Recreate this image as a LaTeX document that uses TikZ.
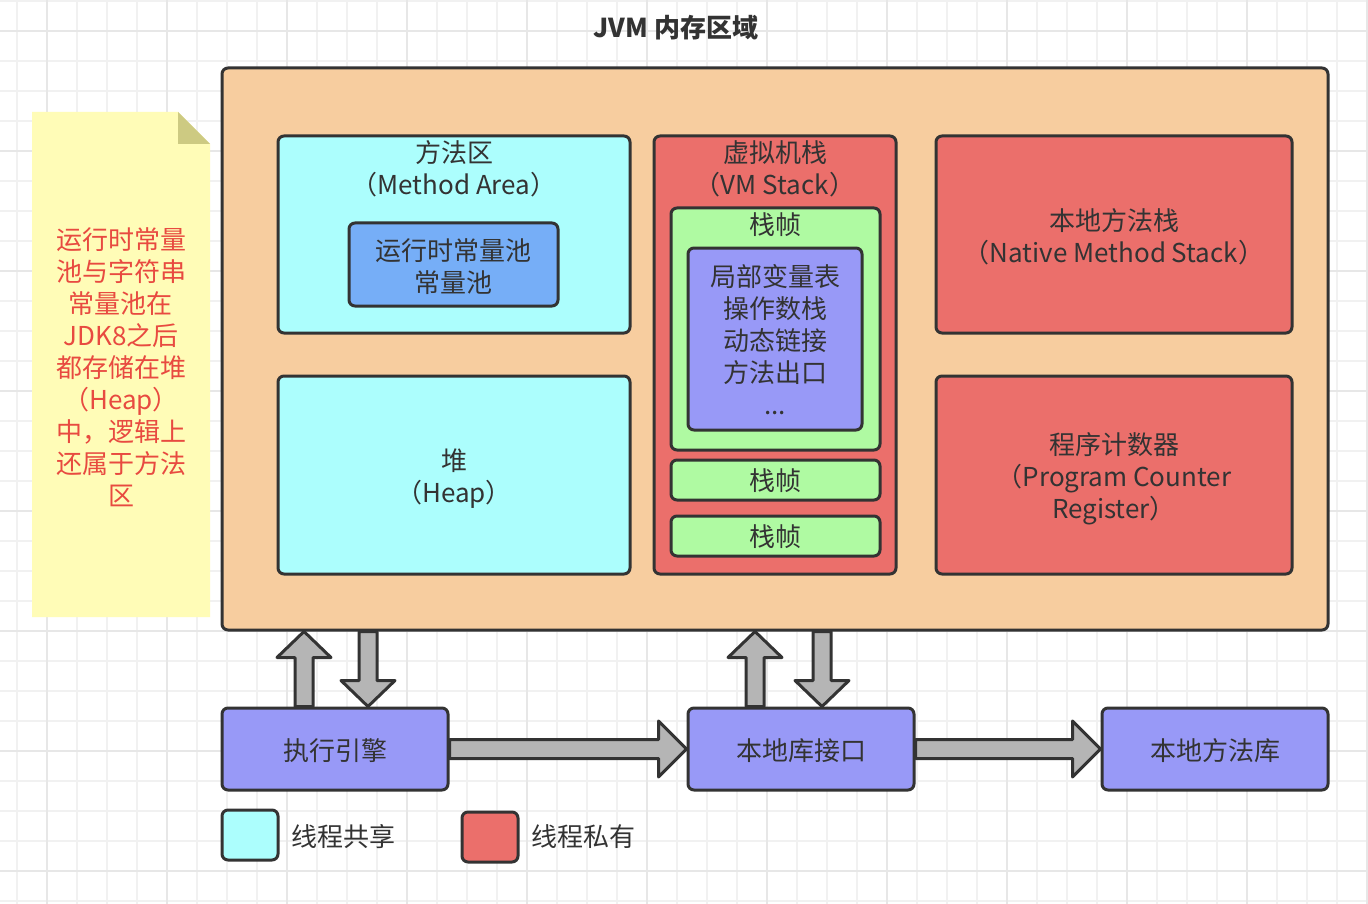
\documentclass[tikz,border=0pt]{standalone}
\usepackage{fontspec}
\setmainfont{Noto Sans CJK SC}
\usepackage{xcolor}
\usepackage{tikz}
\usetikzlibrary{calc,positioning}

\definecolor{linedark}{HTML}{333333}
\definecolor{textdark}{HTML}{333333}
\definecolor{jvmorange}{HTML}{F7CD9F}
\definecolor{sharedcyan}{HTML}{ACFEFD}
\definecolor{poolblue}{HTML}{76AEF7}
\definecolor{privred}{HTML}{EB6F6B}
\definecolor{framegreen}{HTML}{AFFAA2}
\definecolor{infopurple}{HTML}{9899F7}
\definecolor{arrowgray}{HTML}{B5B5B5}
\definecolor{noteyellow}{HTML}{FFFCB7}
\definecolor{notefold}{HTML}{CDCA82}
\definecolor{notered}{HTML}{E84A40}
\definecolor{gridminor}{HTML}{F1F1F1}
\definecolor{gridmajor}{HTML}{E7E7E7}

\tikzset{
  box/.style={draw=linedark, line width=3pt, rounded corners=6pt, inner sep=0pt},
  txt/.style={align=center, inner sep=0pt, text=textdark, font=\fontsize{26}{32}\selectfont},
  blockarrow/.style={draw=linedark, fill=arrowgray, line width=3pt, line join=round},
}

% block arrows: #1 tail, #2 tip
\newcommand\jvmup[2]{\draw[blockarrow] ($(#1)+(-9,0)$) -- ($(#2)+(-9,26)$) -- ($(#2)+(-27,26)$) -- (#2) -- ($(#2)+(27,26)$) -- ($(#2)+(9,26)$) -- ($(#1)+(9,0)$) -- cycle;}
\newcommand\jvmdown[2]{\draw[blockarrow] ($(#1)+(-9,0)$) -- ($(#2)+(-9,-26)$) -- ($(#2)+(-27,-26)$) -- (#2) -- ($(#2)+(27,-26)$) -- ($(#2)+(9,-26)$) -- ($(#1)+(9,0)$) -- cycle;}
\newcommand\jvmright[2]{\draw[blockarrow] ($(#1)+(0,-9.5)$) -- ($(#2)+(-28,-9.5)$) -- ($(#2)+(-28,-28)$) -- (#2) -- ($(#2)+(-28,28)$) -- ($(#2)+(-28,9.5)$) -- ($(#1)+(0,9.5)$) -- cycle;}

\begin{document}
\begin{tikzpicture}[x=1pt, y=-1pt]
\useasboundingbox[fill=white] (0,0) rectangle (1368,904);
% grid
\foreach \gx in {17,47,...,1367} \draw[gridminor, line width=1.2pt] (\gx,0) -- (\gx,904);
\foreach \gy in {1,31,...,901} \draw[gridminor, line width=1.2pt] (0,\gy) -- (1368,\gy);
\foreach \gx in {47,167,...,1367} \draw[gridmajor, line width=1.2pt] (\gx,0) -- (\gx,904);
\foreach \gy in {31,151,...,901} \draw[gridmajor, line width=1.2pt] (0,\gy) -- (1368,\gy);

\node[txt, font=\fontsize{26}{32}\selectfont\bfseries] (title) at (676,28) {JVM 内存区域};

% note
\fill[noteyellow] (32,112) -- (178,112) -- (210,144) -- (210,617) -- (32,617) -- cycle;
\fill[notefold] (178,112) -- (178,144) -- (210,144) -- cycle;
\node[txt, text=notered] (notetxt) at (121,367) {运行时常量\\池与字符串\\常量池在\\JDK8之后\\都存储在堆\\（Heap）\\中，逻辑上\\还属于方法\\区};

% memory areas
\node[box, fill=jvmorange, minimum width=1106, minimum height=562] (jvm) at (775,349) {};

\node[box, fill=sharedcyan, minimum width=352, minimum height=197] (method) at (454,234.5) {};
\node[txt] (methodtxt) at (454,169) {方法区\\（Method Area）};
\node[box, fill=poolblue, minimum width=209, minimum height=83] (pool) at (453.5,264.5) {};
\node[txt] (pooltxt) at (453.5,267) {运行时常量池\\常量池};

\node[box, fill=sharedcyan, minimum width=352, minimum height=198] (heap) at (454,475) {};
\node[txt] (heaptxt) at (454,479) {堆\\（Heap）};

\node[box, fill=privred, minimum width=242, minimum height=438] (vmstack) at (775,355) {};
\node[txt] (vmstacktxt) at (775,169) {虚拟机栈\\（VM Stack）};
\node[box, fill=framegreen, minimum width=209, minimum height=242] (frame) at (775.5,329) {};
\node[txt] (frametxt) at (775.5,225) {栈帧};
\node[box, fill=infopurple, minimum width=174, minimum height=182] (frameinfo) at (775,339) {};
\node[txt] (frameinfotxt) at (775,340) {局部变量表\\操作数栈\\动态链接\\方法出口\\...};
\node[box, fill=framegreen, minimum width=209, minimum height=40] (frameb) at (775.5,480) {};
\node[txt] (framebtxt) at (775.5,481) {栈帧};
\node[box, fill=framegreen, minimum width=209, minimum height=40] (framec) at (775.5,536) {};
\node[txt] (framectxt) at (775.5,537) {栈帧};

\node[box, fill=privred, minimum width=356, minimum height=197] (nstack) at (1114,234.5) {};
\node[txt] (nstacktxt) at (1114,237) {本地方法栈\\（Native Method Stack）};
\node[box, fill=privred, minimum width=356, minimum height=198] (pc) at (1114,475) {};
\node[txt] (pctxt) at (1114,479) {程序计数器\\（Program Counter\\Register）};

% engine and native interface
\node[box, fill=infopurple, minimum width=226, minimum height=82] (exec) at (335,749) {};
\node[txt] (exectxt) at (335,751) {执行引擎};
\node[box, fill=infopurple, minimum width=226, minimum height=82] (native) at (801,749) {};
\node[txt] (nativetxt) at (801,751) {本地库接口};
\node[box, fill=infopurple, minimum width=226, minimum height=82] (lib) at (1215,749) {};
\node[txt] (libtxt) at (1215,751) {本地方法库};

% arrows
\coordinate (e1) at ([xshift=-31pt]exec.north);
\coordinate (e1top) at (e1 |- jvm.south);
\coordinate (e2) at ([xshift=33pt]exec.north);
\coordinate (e2top) at (e2 |- jvm.south);
\coordinate (n1) at ([xshift=-46pt]native.north);
\coordinate (n1top) at (n1 |- jvm.south);
\coordinate (n2) at ([xshift=21pt]native.north);
\coordinate (n2top) at (n2 |- jvm.south);
\jvmup{e1}{e1top}
\jvmdown{e2top}{e2}
\jvmup{n1}{n1top}
\jvmdown{n2top}{n2}
\jvmright{exec.east}{native.west}
\jvmright{native.east}{lib.west}

% legend
\node[box, fill=sharedcyan, minimum width=56, minimum height=50] (legshared) at (250,835) {};
\node[txt, anchor=west] (legsharedtxt) at ([xshift=12pt, yshift=-2pt]legshared.east) {线程共享};
\node[box, fill=privred, minimum width=56, minimum height=50] (legprivate) at (490,837) {};
\node[txt, anchor=west] (legprivatetxt) at ([xshift=12pt]legprivate.east) {线程私有};
\end{tikzpicture}
\end{document}
